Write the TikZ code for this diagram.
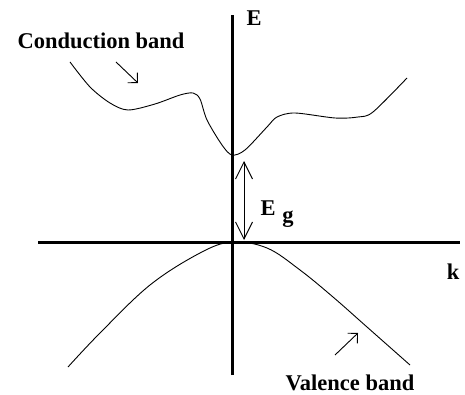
\documentclass[tikz,border=0pt]{standalone}
\usepackage{fontspec}
\setmainfont{Liberation Serif}
\usetikzlibrary{arrows.meta}
\begin{document}
\begin{tikzpicture}[x=1pt,y=-1pt,
  axis/.style={line width=3pt},
  band/.style={line width=0.9pt},
  lbl/.style={font=\fontsize{22.5}{26}\selectfont\bfseries, inner sep=0pt},
  ptr/.style={line width=0.9pt,-{Straight Barb[length=7pt,width=14pt]}},
  gap/.style={line width=0.9pt,{Straight Barb[length=17pt,width=17pt]}-{Straight Barb[length=17pt,width=17pt]}}]
\useasboundingbox (0,0) rectangle (465,395);
% axes
\coordinate (ytop) at (232,15);
\coordinate (ybot) at (232,375);
\coordinate (xl) at (38,242);
\coordinate (xr) at (460,242);
\draw[axis] (ybot) -- (ytop);
\draw[axis] (xl) -- (xr);
% labels
\node[lbl] (E) at (254,18) {E};
\node[lbl] (k) at (453,272) {k};
\node[lbl] (cb) at (101,41) {Conduction band};
\node[lbl] (vb) at (350,383) {Valence band};
\node[lbl] (Eg) at (268,208) {E};
\node[lbl] (g) at (288,219) {g};
% conduction band
\draw[band] plot[smooth,tension=0.5] coordinates {(70,62) (90,87) (110,103) (128,110) (155,104) (180,95) (193,93) (200,99) (207,120) (222,145) (232,155) (245,150) (267,127) (277,117) (295,113) (335,118) (358,117) (373,112) (407,78)};
% valence band
\draw[band] plot[smooth,tension=0.6] coordinates {(68,367) (100,333) (150,285) (200,253) (232,242) (267,248) (300,270) (333,297) (367,327) (410,365)};
% pointer arrows
\coordinate (ca1) at (116,62);
\coordinate (ca2) at (138,83);
\draw[ptr] (ca1) -- (ca2);
\coordinate (va1) at (335,355);
\coordinate (va2) at (358,333);
\draw[ptr] (va1) -- (va2);
% gap arrow
\coordinate (gt) at (244,161);
\coordinate (gb) at (244,240);
\draw[gap] (gt) -- (gb);
\end{tikzpicture}
\end{document}
